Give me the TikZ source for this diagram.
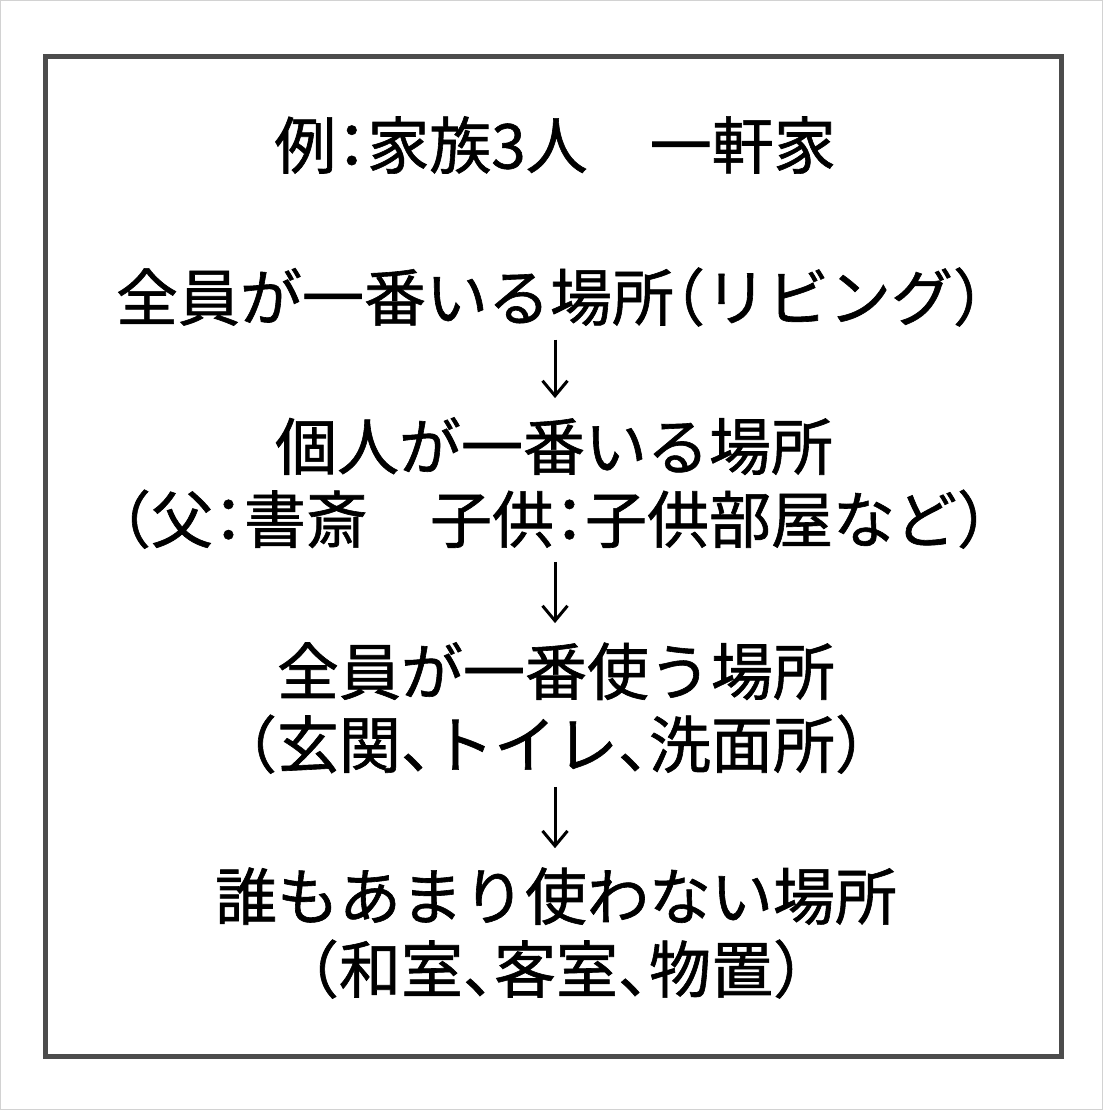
\documentclass[tikz,border=0pt]{standalone}
\usepackage{fontspec}
\setmainfont{Noto Sans CJK JP}[RawFeature=+halt, FakeBold=1]
\usepackage{tikz}
\usetikzlibrary{positioning, arrows.meta}

\tikzset{
    place/.style={align=center, font=\fontsize{62}{73}\selectfont, inner sep=2pt},
    flow/.style={line width=3pt, shorten <=11pt, shorten >=17pt,
        -{Straight Barb[length=15pt,width=25pt,line width=3pt]}}
}

\begin{document}
\begin{tikzpicture}[x=1pt,y=-1pt]
    \useasboundingbox (0,0) rectangle (1103,1110);
    \draw[gray!35, line width=1pt](0.5,0.5) rectangle (1102.5,1109.5);
    \draw[black!70, line width=5pt](45.5,56.5) rectangle (1061.5,1056.5);

    \node[place] (title) at (555,145) {例：家族3人　一軒家};
    \node[place] (living) at (550,297) {全員が一番いる場所（リビング）};
    \node[place] (private) at (554,483) {個人が一番いる場所\\（父：書斎　子供：子供部屋など）};
    \node[place] (shared) at (556,708) {全員が一番使う場所\\（玄関、トイレ、洗面所）};
    \node[place] (unused) at (556,933) {誰もあまり使わない場所\\（和室、客室、物置）};

    \draw[flow](living.south -| 555,0) -- (private.north -| 555,0);
    \draw[flow](private.south -| 555,0) -- (shared.north -| 555,0);
    \draw[flow](shared.south -| 555,0) -- (unused.north -| 555,0);
\end{tikzpicture}
\end{document}
